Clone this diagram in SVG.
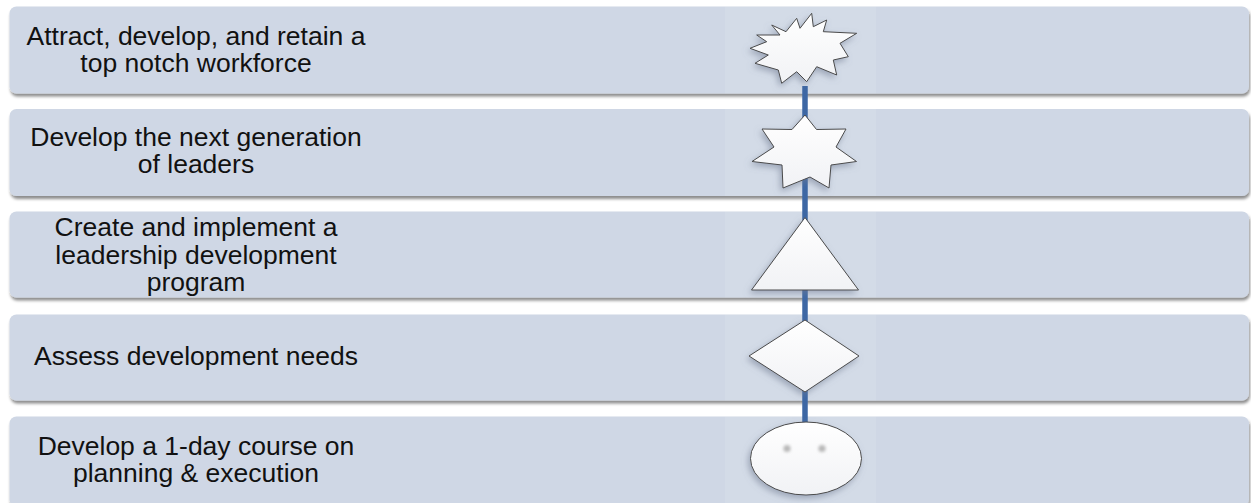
<svg xmlns="http://www.w3.org/2000/svg" width="1251" height="503" viewBox="0 0 1251 503">
  <defs>
    <filter id="bandShadow" x="-2%" y="-20%" width="104%" height="150%">
      <feDropShadow dx="1" dy="3" stdDeviation="1.4" flood-color="#000" flood-opacity="0.45"/>
    </filter>
    <filter id="shapeShadow" x="-30%" y="-30%" width="160%" height="170%">
      <feDropShadow dx="-2" dy="3" stdDeviation="3" flood-color="#6f7c92" flood-opacity="0.55"/>
    </filter>
    <filter id="soft" x="-100%" y="-100%" width="300%" height="300%">
      <feGaussianBlur stdDeviation="1.6"/>
    </filter>
    <linearGradient id="shapeFill" x1="0" y1="0" x2="0" y2="1">
      <stop offset="0" stop-color="#ffffff"/>
      <stop offset="1" stop-color="#f1f2f5"/>
    </linearGradient>
  </defs>
  <style>
    .band { fill: #cfd7e5; filter: url(#bandShadow); }
    .panel { fill: #ffffff; fill-opacity: 0.1; }
    .label { font-family: "Liberation Sans", Arial, sans-serif; font-size: 26.5px; fill: #111; text-anchor: middle; }
    .shape { fill: url(#shapeFill); stroke: #4a4a4a; stroke-width: 1; stroke-linejoin: miter; filter: url(#shapeShadow); }
    .link { stroke: #3d67a4; stroke-width: 5.5; fill: none; }
  </style>

  <rect width="1251" height="503" fill="#ffffff"/>

  <!-- step bands with their labels -->
  <g id="step1">
    <rect class="band" x="9.5" y="6.5" width="1239.5" height="87" rx="7"/>
    <rect class="panel" x="725" y="6.5" width="151" height="87"/>
    <text class="label"><tspan x="196" y="44.5">Attract, develop, and retain a</tspan><tspan x="196" y="72">top notch workforce</tspan></text>
  </g>
  <g id="step2">
    <rect class="band" x="9.5" y="109" width="1239.5" height="87" rx="7"/>
    <rect class="panel" x="725" y="109" width="151" height="87"/>
    <text class="label"><tspan x="196" y="145.5">Develop the next generation</tspan><tspan x="196" y="173">of leaders</tspan></text>
  </g>
  <g id="step3">
    <rect class="band" x="9.5" y="211.5" width="1239.5" height="86" rx="7"/>
    <rect class="panel" x="725" y="211.5" width="151" height="86"/>
    <text class="label"><tspan x="196" y="236">Create and implement a</tspan><tspan x="196" y="263.5">leadership development</tspan><tspan x="196" y="291">program</tspan></text>
  </g>
  <g id="step4">
    <rect class="band" x="9.5" y="314.5" width="1239.5" height="86" rx="7"/>
    <rect class="panel" x="725" y="314.5" width="151" height="86"/>
    <text class="label" x="196" y="365">Assess development needs</text>
  </g>
  <g id="step5">
    <rect class="band" x="9.5" y="416.5" width="1239.5" height="90" rx="7"/>
    <rect class="panel" x="725" y="416.5" width="151" height="90"/>
    <text class="label"><tspan x="196" y="454.5">Develop a 1-day course on</tspan><tspan x="196" y="482">planning &amp; execution</tspan></text>
  </g>

  <!-- connector running through the icon column -->
  <g id="connectors">
    <line class="link" x1="805" y1="86" x2="805" y2="423"/>
  </g>

  <!-- icons -->
  <g id="icon-burst">
    <polygon class="shape" points="771.7,25 786,31.7 796.7,18.3 800,28.3 811.7,13.3 813.3,26.7 826.7,20 823.3,31.7 856.7,33.3 840,43.3 848.3,56.7 833.3,60 836.7,75 816.7,66.7 806.7,81.7 796.7,71.7 781.7,83.3 778.3,70 755,63.3 768.3,55 750,48.3 766.7,41.7 756.7,35 780,35"/>
  </g>
  <g id="icon-star">
    <polygon class="shape" points="805,115 816.5,129.5 846,129 836,147 856.5,161.5 831,165 829,188 810,177 783,188 782,165 752,161.5 774,147 762,129 792,129.5"/>
  </g>
  <g id="icon-triangle">
    <polygon class="shape" points="805,217.5 858.5,290 751.5,290"/>
  </g>
  <g id="icon-diamond">
    <polygon class="shape" points="805,320 859,356 805,392 749,356"/>
  </g>
  <g id="icon-face">
    <ellipse class="shape" cx="806" cy="458.5" rx="55.5" ry="36.5"/>
    <circle cx="787" cy="448.5" r="3.6" fill="#b8b8b8" filter="url(#soft)"/>
    <circle cx="822" cy="448.5" r="3.6" fill="#b8b8b8" filter="url(#soft)"/>
  </g>
</svg>
